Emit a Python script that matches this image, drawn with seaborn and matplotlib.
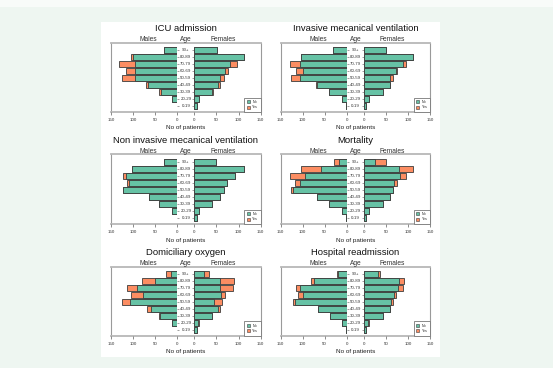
import matplotlib
matplotlib.use("Agg")
import matplotlib.pyplot as plt
import seaborn as sns
from matplotlib.patches import Patch, Rectangle
from matplotlib.transforms import blended_transform_factory

# age groups, top (oldest) to bottom
ages = ["90+", "80-89", "70-79", "60-69", "50-59", "40-49", "30-39", "20-29", "0-19"]

titles = ["ICU admission", "Invasive mecanical ventilation",
          "Non invasive mecanical ventilation", "Mortality",
          "Domiciliary oxygen", "Hospital readmission"]

# counts per outcome: males No / Yes, females No / Yes
icu_m_no = [30, 100, 96, 96, 96, 67, 36, 11, 1]
icu_m_yes = [0, 4, 35, 20, 30, 3, 5, 0, 0]
icu_f_no = [51, 112, 81, 70, 57, 54, 40, 10, 5]
icu_f_yes = [0, 1, 16, 5, 11, 4, 3, 0, 0]

imv_m_no = [30, 104, 105, 100, 105, 67, 40, 11, 1]
imv_m_yes = [0, 0, 25, 16, 22, 2, 0, 0, 0]
imv_f_no = [50, 111, 88, 72, 60, 58, 43, 11, 5]
imv_f_yes = [0, 0, 7, 3, 7, 0, 0, 0, 0]

niv_m_no = [29, 103, 117, 108, 122, 64, 40, 11, 1]
niv_m_yes = [0, 0, 5, 6, 1, 0, 0, 0, 0]
niv_f_no = [49, 112, 91, 73, 66, 57, 41, 10, 5]
niv_f_yes = [0, 1, 0, 0, 0, 0, 0, 0, 0]

mort_m_no = [18, 58, 95, 105, 121, 68, 40, 11, 1]
mort_m_yes = [10, 46, 34, 12, 5, 0, 0, 0, 0]
mort_f_no = [24, 80, 82, 68, 66, 58, 43, 11, 5]
mort_f_yes = [26, 32, 13, 7, 0, 0, 0, 0, 0]

oxy_m_no = [14, 49, 92, 77, 106, 58, 39, 11, 1]
oxy_m_yes = [10, 31, 22, 28, 18, 10, 1, 0, 0]
oxy_f_no = [21, 57, 58, 61, 45, 53, 40, 8, 5]
oxy_f_yes = [13, 32, 29, 9, 18, 5, 1, 2, 0]

read_m_no = [19, 74, 105, 100, 117, 65, 39, 11, 1]
read_m_yes = [4, 8, 11, 11, 6, 0, 0, 0, 0]
read_f_no = [32, 80, 78, 68, 61, 58, 43, 8, 5]
read_f_yes = [5, 10, 10, 5, 5, 0, 0, 3, 0]

panels = [
    (icu_m_no, icu_m_yes, icu_f_no, icu_f_yes),
    (imv_m_no, imv_m_yes, imv_f_no, imv_f_yes),
    (niv_m_no, niv_m_yes, niv_f_no, niv_f_yes),
    (mort_m_no, mort_m_yes, mort_f_no, mort_f_yes),
    (oxy_m_no, oxy_m_yes, oxy_f_no, oxy_f_yes),
    (read_m_no, read_m_yes, read_f_no, read_f_yes),
]

green = "#66c2a5"
orange = "#fc8d62"
edge = "#3c3c3c"

sns.set_style("white")
plt.rcParams["font.family"] = ["Liberation Sans", "DejaVu Sans"]

W, H = 553, 368
fig = plt.figure(figsize=(W / 100, H / 100), dpi=100, facecolor="#eef6f1")
fig.patches.append(Rectangle((0, 1 - 7 / H), 1, 7 / H, transform=fig.transFigure,
                             facecolor="#f8fbf9", edgecolor="none", zorder=-2))
fig.patches.append(Rectangle((101 / W, 1 - 357 / H), 339 / W, 335 / H,
                             transform=fig.transFigure, facecolor="white",
                             edgecolor="none", zorder=-1))

# pixel layout of each panel box
col_x = [(111, 177, 194.3, 260.7), (280.7, 346.7, 364, 430)]
row_y = [(42.7, 112), (154.3, 224), (266.7, 335.7)]


def fx(px):
    return px / W


def side(ax, no, yes, male):
    total = [a + b for a, b in zip(no, yes)]
    sns.barplot(x=total, y=ages, color=orange, width=0.84, edgecolor=edge,
                linewidth=0.6, saturation=1, ax=ax, orient="h")
    sns.barplot(x=no, y=ages, color=green, width=0.84, edgecolor=edge,
                linewidth=0.6, saturation=1, ax=ax, orient="h")
    ax.set_xlim((150, 0) if male else (0, 150))
    ax.set_ylim(8.86, -1.04)
    ax.set_xticks([0, 50, 100, 150])
    ax.set_xlabel("")
    ax.set_ylabel("")
    ax.set_yticks(range(len(ages)))
    ax.set_yticklabels([])
    for s in ax.spines.values():
        s.set_visible(False)
    ax.patch.set_alpha(0)
    ax.tick_params(axis="x", bottom=True, length=2, width=0.6, color="#777777",
                   labelsize=3.2, pad=2.5, labelcolor="#333333")
    if male:
        ax.tick_params(axis="y", left=False, right=True, length=1.5, width=0.5,
                       color="#777777")
    else:
        ax.tick_params(axis="y", left=True, right=False, length=1.5, width=0.5,
                       color="#777777")


for i, (title, data) in enumerate(zip(titles, panels)):
    r, c = divmod(i, 2)
    x0, xm, xf, x1 = col_x[c]
    top, bot = row_y[r]
    b = 1 - bot / H
    h = (bot - top) / H
    frame = fig.add_axes([fx(x0), b, fx(x1 - x0), h])
    frame.set_xticks([])
    frame.set_yticks([])
    frame.patch.set_alpha(0)
    for k, s in frame.spines.items():
        s.set_color("#9a9a9a" if k in ("left", "right") else "#b8b8b8")
        s.set_linewidth(0.8 if k in ("left", "right") else 1.3)

    axm = fig.add_axes([fx(x0), b, fx(xm - x0), h])
    axf = fig.add_axes([fx(xf), b, fx(x1 - xf), h])
    side(axm, data[0], data[1], True)
    side(axf, data[2], data[3], False)

    tr = blended_transform_factory(frame.transAxes, axm.transData)
    for j, a in enumerate(ages):
        frame.text(0.5, j, a, transform=tr, ha="center", va="center",
                   fontsize=3.2, color="#333333")

    frame.text(0.5, 1.2, title, transform=frame.transAxes, ha="center",
               va="center", fontsize=6.8, color="#111111")
    for xx, lab in [(0.25, "Males"), (0.5, "Age"), (0.75, "Females")]:
        frame.text(xx, 1.045, lab, transform=frame.transAxes, ha="center",
                   va="center", fontsize=4.8, color="#333333")
    frame.text(0.5, -0.23, "No of patients", transform=frame.transAxes,
               ha="center", va="center", fontsize=4.6, color="#222222")

    handles = [Patch(facecolor=green, edgecolor=edge, linewidth=0.4),
               Patch(facecolor=orange, edgecolor=edge, linewidth=0.4)]
    leg = axf.legend(handles, ["No", "Yes"], loc="lower right", fontsize=2.6,
                     handlelength=0.9, handleheight=0.9, handletextpad=0.6,
                     labelspacing=0.4, borderpad=0.7, borderaxespad=0,
                     frameon=True, fancybox=False, framealpha=1)
    leg.get_frame().set_edgecolor("#777777")
    leg.get_frame().set_linewidth(0.6)

fig.savefig("out.png", dpi=100, facecolor=fig.get_facecolor())
